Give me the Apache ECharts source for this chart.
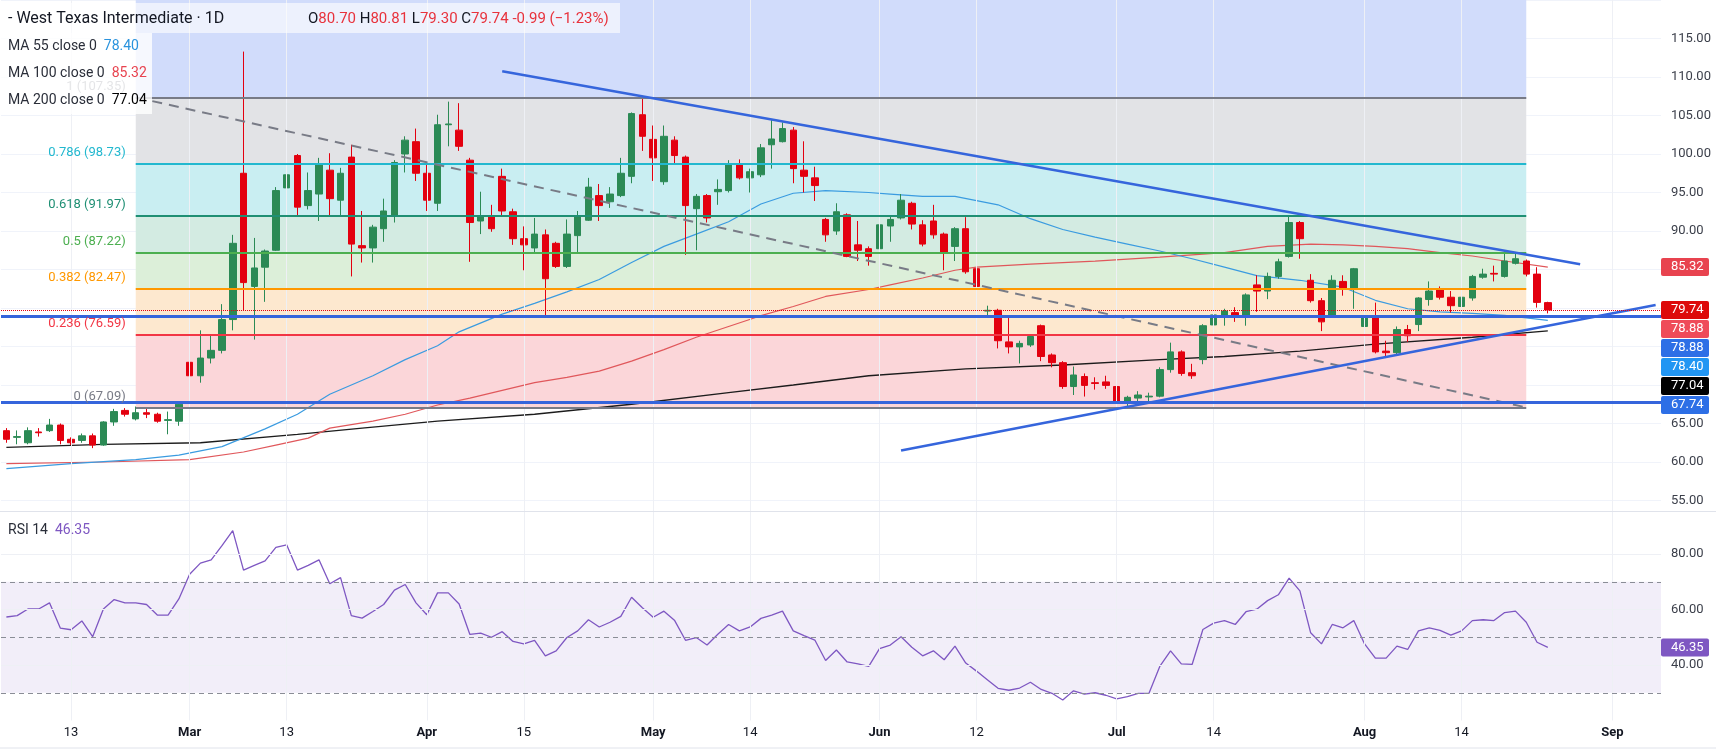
<!DOCTYPE html>
<html>
<head>
<meta charset="utf-8">
<title>West Texas Intermediate 1D</title>
<script src="https://cdn.jsdelivr.net/npm/echarts@6/dist/echarts.min.js"></script>
<style>
html, body { margin: 0; padding: 0; background: #fff; }
#chart { width: 1716px; height: 749px; }
</style>
</head>
<body>
<div id="chart"></div>
<script>
// daily candles, index = bar number
var opens = [64.07,63.2,62.5,63.9,64.07,64.8,62.95,62.8,63.4,62.2,65.2,66.7,65.6,66.4,66.2,65.4,65.3,72.95,71.2,73.5,
  74.5,78.5,97.5,82.8,85.3,87.5,95.6,99.8,93.3,94.8,97.9,94.0,99.6,88.1,87.8,90.3,91.9,100.0,101.6,97.5,
  93.6,103.8,103.1,99.2,91.3,91.9,97.1,92.5,89.0,87.8,89.5,88.4,85.4,89.4,91.4,94.6,93.8,94.6,97.1,105.1,
  101.9,96.4,101.8,99.6,92.9,94.6,95.1,95.25,98.7,96.9,97.3,101.2,101.6,103.1,97.9,96.9,91.5,90.0,92.1,88.2,
  87.7,87.7,90.65,91.7,93.6,90.8,91.3,89.6,88.0,90.3,85.1,79.6,79.7,75.6,74.95,75.2,77.7,73.9,72.9,69.8,
  71.1,70.3,70.4,69.8,67.9,68.3,68.45,68.55,72.0,74.3,71.6,73.3,77.8,79.1,79.4,78.85,83.0,82.2,84.1,86.7,
  91.1,83.6,80.95,79.0,83.45,82.4,77.6,78.85,74.4,74.2,77.2,77.85,81.1,82.4,81.4,80.2,81.3,84.0,84.5,84.1,
  85.8,86.1,84.4,80.70];
var closes = [62.95,63.3,64.07,63.8,64.8,62.8,62.5,63.4,62.2,65.2,66.55,66.2,66.4,66.2,65.3,65.5,67.5,71.2,73.5,74.5,
  78.5,88.4,83.3,85.2,87.4,95.25,97.3,93.1,95.25,98.7,94.2,97.5,88.3,87.8,90.5,92.6,98.9,101.8,97.5,94.0,
  103.8,103.9,101.0,91.1,91.9,90.3,92.6,89.0,88.2,89.6,83.8,85.4,89.6,92.0,95.7,93.3,94.8,97.5,105.25,102.3,
  99.5,102.3,99.8,93.3,94.5,91.7,95.4,98.7,96.9,97.7,100.8,101.95,103.3,98.1,97.1,95.9,89.5,92.5,86.7,87.5,
  86.7,90.8,91.5,94.0,90.9,88.3,89.5,87.2,90.3,84.7,82.8,79.7,75.75,74.95,75.4,76.3,73.7,72.9,69.8,71.3,
  69.95,70.2,69.95,67.9,68.4,68.7,68.55,72.0,74.3,71.5,71.2,77.7,79.1,79.6,78.85,81.7,82.2,84.1,86.0,91.1,
  89.0,80.95,78.2,83.6,82.6,85.1,78.85,74.3,74.2,77.2,76.4,81.3,82.2,81.4,80.3,81.4,84.1,84.4,84.4,86.1,
  86.4,84.4,80.73,79.74];
var lows = [62.5,62.3,62.3,63.3,63.9,62.3,62.2,62.5,61.8,62.1,64.7,65.9,65.4,65.7,65.1,63.6,64.7,69.2,70.3,72.8,
  74.1,77.1,79.7,75.9,80.8,87.4,91.3,92.0,92.8,91.3,92.0,92.0,84.1,85.9,85.9,88.6,91.1,97.6,96.5,92.6,
  92.6,101.0,100.4,86.0,89.6,89.9,91.9,88.2,84.9,87.2,78.85,85.2,85.2,87.1,91.3,91.3,93.0,94.4,96.2,100.4,
  96.5,96.0,98.7,86.9,87.5,91.1,93.4,95.0,96.7,95.0,97.0,98.1,101.5,96.2,95.0,93.9,88.6,89.5,86.6,86.1,
  85.5,87.5,88.6,91.5,90.2,88.0,89.0,84.9,86.1,84.45,81.95,78.7,74.75,74.1,72.8,74.95,73.1,72.3,69.5,68.7,
  68.5,69.4,69.5,67.7,67.2,67.9,67.9,68.4,71.6,71.2,70.8,72.7,77.4,77.7,78.2,77.7,79.5,81.15,83.8,86.55,
  86.4,80.7,77.0,78.7,81.6,79.9,77.35,74.1,73.5,73.9,75.6,77.0,80.3,81.1,79.4,79.9,80.95,83.8,83.45,83.95,
  85.65,84.1,80.05,79.30];
var highs = [64.4,64.1,64.5,64.4,65.6,65.0,63.2,63.7,63.7,65.3,66.9,67.0,67.2,67.05,66.4,66.55,67.9,73.1,77.1,76.5,
  80.5,89.5,113.3,89.1,87.6,95.7,97.5,100.0,97.6,99.5,100.1,98.2,101.2,92.6,90.8,94.2,99.2,102.3,103.3,98.9,
  105.1,106.8,106.6,99.5,95.1,93.4,98.1,92.9,90.6,91.7,90.2,88.6,91.5,92.6,96.9,96.1,95.7,99.5,105.4,107.55,
  103.7,103.7,102.3,99.8,94.8,94.8,96.7,99.2,99.3,98.1,101.3,104.4,104.1,103.5,101.65,98.35,91.7,93.6,92.3,91.3,
  88.0,93.1,92.0,94.8,93.8,91.4,93.4,89.8,90.5,91.8,85.5,80.3,79.9,79.0,75.75,76.4,77.85,74.1,73.1,72.4,
  71.5,71.0,71.2,69.95,68.6,69.2,69.0,72.3,75.5,74.5,72.75,77.9,80.5,79.9,80.1,81.9,84.25,84.6,86.4,91.9,
  91.3,84.4,81.3,84.25,84.25,85.2,79.9,80.7,75.75,77.6,77.8,81.4,83.45,82.8,82.2,82.1,84.3,85.1,85.5,87.35,
  87.05,86.3,85.3,80.81];

var rsi = [57.3,57.8,60.2,60.2,62.4,53.3,52.7,55.9,50.2,60.2,
  63.6,62.4,62.4,61.8,58.0,58.0,63.8,72.7,76.7,77.9,
  83.0,88.4,74.2,75.9,77.5,82.4,83.3,74.2,75.9,77.9,
  69.3,71.5,57.8,56.9,59.3,61.8,67.0,69.0,62.4,58.1,
  66.0,66.0,62.0,51.0,51.5,50.0,52.0,48.5,47.6,48.9,
  43.3,45.1,49.9,52.3,56.3,53.7,55.4,57.5,64.4,60.6,
  57.2,59.4,56.0,48.9,49.9,47.2,51.1,54.6,52.3,53.7,
  56.8,58.0,59.4,52.3,50.6,49.0,41.6,45.4,41.1,40.4,
  39.5,45.9,47.2,50.2,46.4,43.3,45.1,41.9,46.8,40.7,
  37.8,34.7,31.6,30.9,31.7,33.8,31.2,29.8,27.4,30.7,
  29.5,30.0,29.1,27.8,28.6,29.8,29.8,39.5,45.1,40.4,
  40.2,52.8,55.1,56.0,54.6,59.2,60.1,63.2,65.3,71.3,
  66.7,51.6,47.6,54.6,53.4,56.0,47.6,42.5,42.5,46.8,
  45.6,52.3,53.4,52.5,50.8,52.3,56.0,56.3,56.0,58.9,
  59.4,55.4,48.2,46.35];

// moving averages at [bar, value]
var ma55 = [[0,59.15],[6,59.8],[12,60.3],[16,60.9],[20,62.0],[24,64.3],[27,66.2],[30,68.8],[34,71.2],[37,73.3],
  [40,75.1],[42,76.9],[46,79.2],[49,80.6],[52,82.1],[55,83.7],[58,85.9],[61,88.0],[64,89.6],[67,91.2],
  [70,93.5],[73,94.9],[76,95.25],[80,95.0],[82,94.8],[85,94.5],[88,94.5],[92,93.4],[95,91.6],[98,90.2],
  [101,89.2],[104,88.3],[107,87.4],[110,86.4],[113,85.3],[116,84.2],[120,83.6],[124,82.7],[127,81.0],[130,79.9],
  [133,79.5],[136,79.3],[139,79.05],[143,78.40]];
var ma100 = [[0,59.8],[9,60.0],[17,60.3],[22,61.3],[25,62.2],[28,63.1],[30,64.4],[34,65.3],[37,66.2],[40,67.4],
  [43,68.3],[46,69.3],[49,70.3],[52,71.0],[55,71.8],[58,73.1],[61,74.6],[64,76.2],[67,77.6],[70,79.0],
  [73,80.2],[76,81.5],[80,82.4],[82,83.0],[85,83.9],[88,84.9],[90,85.3],[95,85.7],[101,86.1],[107,86.6],
  [113,87.2],[117,88.0],[121,88.3],[124,88.2],[127,88.0],[130,87.7],[133,87.2],[136,86.75],[139,86.1],[143,85.32]];
var ma200 = [[0,61.9],[9,62.3],[18,62.5],[27,63.6],[33,64.4],[40,65.3],[49,66.2],[58,67.5],[67,69.0],[73,70.0],
  [80,71.2],[89,72.1],[98,72.6],[107,73.3],[113,73.7],[118,74.2],[120,74.4],[127,75.3],[136,76.2],[143,77.04]];

var timeLabels = {6:'13', 17:'Mar', 26:'13', 39:'Apr', 48:'15', 60:'May', 69:'14', 81:'Jun', 90:'12', 103:'Jul', 112:'14', 126:'Aug', 135:'14', 149:'Sep'};
var barCount = 154;

var fibRatios = ['1', '0.786', '0.618', '0.5', '0.382', '0.236', '0'];
var fibPrices = [107.35, 98.73, 91.97, 87.22, 82.47, 76.59, 67.09];
var fibStart = 12, fibEnd = 141;

var upperTrend = [[46, 110.76], [146, 85.68]];
var lowerTrend = [[83, 61.49], [153, 80.40]];
var hLines = [78.88, 67.74];

var chart = echarts.init(document.getElementById('chart'));

var cats = [];
for (var i = 0; i < barCount; i++) cats.push(String(i));
var candles = opens.map(function (o, i) { return [o, closes[i], lows[i], highs[i]]; });
var rsiData = rsi.map(function (v, i) { return [i, v]; });
var last = closes.length - 1;
var lastPrice = closes[last];

var fibLineColors = ['#787b86', '#22b8cf', '#1f8f74', '#4caf50', '#ff9800', '#f23645', '#787b86'];
var zoneColors = ['#d1dcfb', '#e2e3e6', '#c9eef2', '#d3ebe2', '#dcefd9', '#fde8cf', '#fbd6d9'];
var blue = '#3565dc';
var font = 'Roboto, "Noto Sans", sans-serif';

var zones = [[{coord: [fibStart, fibPrices[0]], itemStyle: {color: zoneColors[0]}}, {coord: [fibEnd, 120]}]];
var fibLines = [];
for (var k = 0; k < fibPrices.length; k++) {
    if (k < fibPrices.length - 1) {
        zones.push([{coord: [fibStart, fibPrices[k]], itemStyle: {color: zoneColors[k + 1]}}, {coord: [fibEnd, fibPrices[k + 1]]}]);
    }
    fibLines.push([{coord: [fibStart, fibPrices[k]], lineStyle: {color: fibLineColors[k], width: 2, type: 'solid'}}, {coord: [fibEnd, fibPrices[k]]}]);
}
fibLines.push([{coord: [fibStart, fibPrices[0]], lineStyle: {color: '#787b86', width: 2, type: [10, 7]}}, {coord: [fibEnd, fibPrices[6]]}]);

var vGrid = Object.keys(timeLabels).map(function (k) { return {xAxis: Number(k)}; });
var noSym = ['none', 'none'];

var option = {
    animation: false,
    backgroundColor: '#fff',
    grid: [
        {left: 1, top: 0, width: 1660, height: 500.5},
        {left: 1, top: 498.5, width: 1660, height: 222}
    ],
    xAxis: [
        {type: 'category', gridIndex: 0, data: cats, boundaryGap: true,
            axisLine: {show: false}, axisTick: {show: false}, axisLabel: {show: false}, splitLine: {show: false}},
        {type: 'category', gridIndex: 1, data: cats, boundaryGap: true,
            axisLine: {show: false}, axisTick: {show: false}, splitLine: {show: false},
            axisLabel: {
                margin: 6, fontSize: 13, color: '#131722', fontFamily: font,
                interval: function (index) { return timeLabels[index] !== undefined; },
                formatter: function (value) {
                    var t = timeLabels[Number(value)] || '';
                    return /^[A-Z]/.test(t) ? '{m|' + t + '}' : t;
                },
                rich: {m: {fontSize: 13, fontWeight: 'bold', color: '#131722', fontFamily: font}}
            }}
    ],
    yAxis: [
        {type: 'value', gridIndex: 0, position: 'right', min: 55, max: 120, interval: 5,
            axisLine: {show: false}, axisTick: {show: false},
            axisLabel: {margin: 10, fontSize: 13, color: '#3b3f4a', fontFamily: font,
                formatter: function (v) { return v >= 120 ? '' : v.toFixed(2); }},
            splitLine: {lineStyle: {color: '#f0f3fa', width: 1}}},
        {type: 'value', gridIndex: 1, position: 'right', min: 20, max: 100, interval: 20,
            axisLine: {show: false}, axisTick: {show: false},
            axisLabel: {margin: 10, fontSize: 13, color: '#3b3f4a', fontFamily: font,
                formatter: function (v) { return (v <= 20 || v >= 100) ? '' : v.toFixed(2); }},
            splitLine: {show: false}}
    ],
    series: [
        {type: 'line', name: 'vgrid', xAxisIndex: 0, yAxisIndex: 0, data: [], z: 0, silent: true,
            markLine: {symbol: noSym, silent: true, label: {show: false}, lineStyle: {color: '#eef0f5', width: 1, type: 'solid'}, data: vGrid}},
        {type: 'line', name: 'vgrid2', xAxisIndex: 1, yAxisIndex: 1, data: [], z: 0, silent: true,
            markLine: {symbol: noSym, silent: true, label: {show: false}, lineStyle: {color: '#eef0f5', width: 1, type: 'solid'},
                data: vGrid.concat([{yAxis: 40}, {yAxis: 60}, {yAxis: 80}])}},
        {type: 'line', name: 'fib zones', xAxisIndex: 0, yAxisIndex: 0, data: [], z: 1, silent: true,
            markArea: {silent: true, data: zones}},
        {type: 'line', name: 'fib levels', xAxisIndex: 0, yAxisIndex: 0, data: [], z: 2, silent: true,
            markLine: {symbol: noSym, silent: true, label: {show: false}, data: fibLines}},
        {type: 'line', name: 'MA 200', xAxisIndex: 0, yAxisIndex: 0, data: ma200, z: 3, showSymbol: false,
            lineStyle: {color: '#1c1c1c', width: 1.3}},
        {type: 'line', name: 'MA 100', xAxisIndex: 0, yAxisIndex: 0, data: ma100, z: 3, showSymbol: false,
            lineStyle: {color: '#e0575b', width: 1.2}},
        {type: 'line', name: 'MA 55', xAxisIndex: 0, yAxisIndex: 0, data: ma55, z: 3, showSymbol: false,
            lineStyle: {color: '#3a9be0', width: 1.2}},
        {type: 'candlestick', name: 'WTI', xAxisIndex: 0, yAxisIndex: 0, data: candles, z: 4, barWidth: 7,
            itemStyle: {color: '#2b8a55', color0: '#e3000f', borderColor: '#2b8a55', borderColor0: '#e3000f', borderWidth: 1}},
        {type: 'line', name: 'drawings', xAxisIndex: 0, yAxisIndex: 0, data: [], z: 5, silent: true,
            markLine: {symbol: noSym, silent: true, label: {show: false}, data: [
                [{coord: upperTrend[0], lineStyle: {color: blue, width: 2.5, type: 'solid'}}, {coord: upperTrend[1]}],
                [{coord: lowerTrend[0], lineStyle: {color: blue, width: 2.5, type: 'solid'}}, {coord: lowerTrend[1]}],
                {yAxis: hLines[0], lineStyle: {color: blue, width: 3, type: 'solid'}},
                {yAxis: hLines[1], lineStyle: {color: blue, width: 3, type: 'solid'}},
                {yAxis: lastPrice, lineStyle: {color: '#e3000f', width: 1, type: 'dotted'}}
            ]}},
        {type: 'line', name: 'RSI 14', xAxisIndex: 1, yAxisIndex: 1, data: rsiData, z: 3, showSymbol: false,
            lineStyle: {color: '#7e57c2', width: 1.3},
            markArea: {silent: true, itemStyle: {color: 'rgba(126,87,194,0.1)'}, data: [[{yAxis: 70}, {yAxis: 30}]]},
            markLine: {symbol: noSym, silent: true, label: {show: false}, lineStyle: {color: '#8a8d96', width: 1, type: [5, 4]},
                data: [{yAxis: 70}, {yAxis: 50}, {yAxis: 30}]}}
    ]
};
chart.setOption(option);

// overlay texts and price tags
function px(g, x, y) { return chart.convertToPixel({gridIndex: g}, [x, y]); }
function txt(x, y, text, fill, size, align, rich) {
    var st = {text: text, fill: fill, font: size + 'px ' + font, align: align || 'left', verticalAlign: 'middle',
        textAlign: align || 'left', textVerticalAlign: 'middle'};
    if (rich) st.rich = rich;
    return {type: 'text', x: x, y: y, z: 120, silent: true, style: st};
}
var g = [];
g.push({type: 'rect', z: 110, silent: true, shape: {x: 0, y: 3, width: 620, height: 30}, style: {fill: 'rgba(255,255,255,0.6)'}});
g.push({type: 'rect', z: 110, silent: true, shape: {x: 0, y: 33, width: 152, height: 81}, style: {fill: 'rgba(255,255,255,0.8)'}});

for (var f = 0; f < fibPrices.length; f++) {
    var p = px(0, fibStart, fibPrices[f]);
    var lab = txt(p[0] - 10, p[1] - 11, fibRatios[f] + ' (' + fibPrices[f].toFixed(2) + ')', fibLineColors[f], 13, 'right');
    lab.z = 105;
    g.push(lab);
}

var chg = lastPrice - closes[last - 1];
var pct = chg / closes[last - 1] * 100;
var red = '#e8323c';
g.push(txt(8, 19, '- West Texas Intermediate · 1D', '#131722', 16));
g.push(txt(308, 19,
    '{k|O}{v|' + opens[last].toFixed(2) + '} {k|H}{v|' + highs[last].toFixed(2) + '} {k|L}{v|' + lows[last].toFixed(2) +
    '} {k|C}{v|' + lastPrice.toFixed(2) + '} {v|' + chg.toFixed(2) + ' (\u2212' + Math.abs(pct).toFixed(2) + '%)}',
    '#131722', 15, 'left',
    {k: {fill: '#131722', font: '15px ' + font}, v: {fill: red, font: '15px ' + font}}));

var maLegend = [['MA 55 close 0', ma55, '#2a93dd'], ['MA 100 close 0', ma100, '#e8434f'], ['MA 200 close 0', ma200, '#000000']];
maLegend.forEach(function (m, j) {
    var val = m[1][m[1].length - 1][1].toFixed(2);
    g.push(txt(8, 46 + j * 27, '{a|' + m[0] + '}  {b|' + val + '}', '#131722', 14, 'left',
        {a: {fill: '#2a2e39', font: '14px ' + font}, b: {fill: m[2], font: '14px ' + font}}));
});
g.push(txt(8, 530, '{a|RSI 14}  {b|' + rsi[last].toFixed(2) + '}', '#131722', 14, 'left',
    {a: {fill: '#2a2e39', font: '14px ' + font}, b: {fill: '#7e57c2', font: '14px ' + font}}));

// price tags on the right axis, pushed down when they would overlap
var tags = [
    [ma100[ma100.length - 1][1], '#e8434f'],
    [lastPrice, '#dd0a0a'],
    [hLines[0], '#ef4b59'],
    [hLines[0], '#2d6fe6'],
    [ma55[ma55.length - 1][1], '#2196f3'],
    [ma200[ma200.length - 1][1], '#000000'],
    [hLines[1], '#2d6fe6']
];
var tagH = 19, prevY = -100;
tags.forEach(function (t) {
    var y = px(0, 0, t[0])[1];
    if (y < prevY + tagH) y = prevY + tagH;
    prevY = y;
    g.push({type: 'rect', z: 115, silent: true, shape: {x: 1661, y: y - tagH / 2 + 0.5, width: 48, height: tagH - 1, r: 2}, style: {fill: t[1]}});
    g.push(txt(1671, y, t[0].toFixed(2), '#ffffff', 13));
});
var ry = px(1, 0, rsi[last])[1];
g.push({type: 'rect', z: 115, silent: true, shape: {x: 1661, y: ry - 9, width: 48, height: 18, r: 2}, style: {fill: '#7e57c2'}});
g.push(txt(1671, ry, rsi[last].toFixed(2), '#ffffff', 13));

g.push({type: 'line', z: 100, silent: true, shape: {x1: 0, y1: 511.5, x2: 1716, y2: 511.5}, style: {stroke: '#e0e3eb', lineWidth: 1}});
g.push({type: 'line', z: 100, silent: true, shape: {x1: 0, y1: 748, x2: 1716, y2: 748}, style: {stroke: '#e0e3eb', lineWidth: 1}});

chart.setOption({graphic: g});
</script>
</body>
</html>
